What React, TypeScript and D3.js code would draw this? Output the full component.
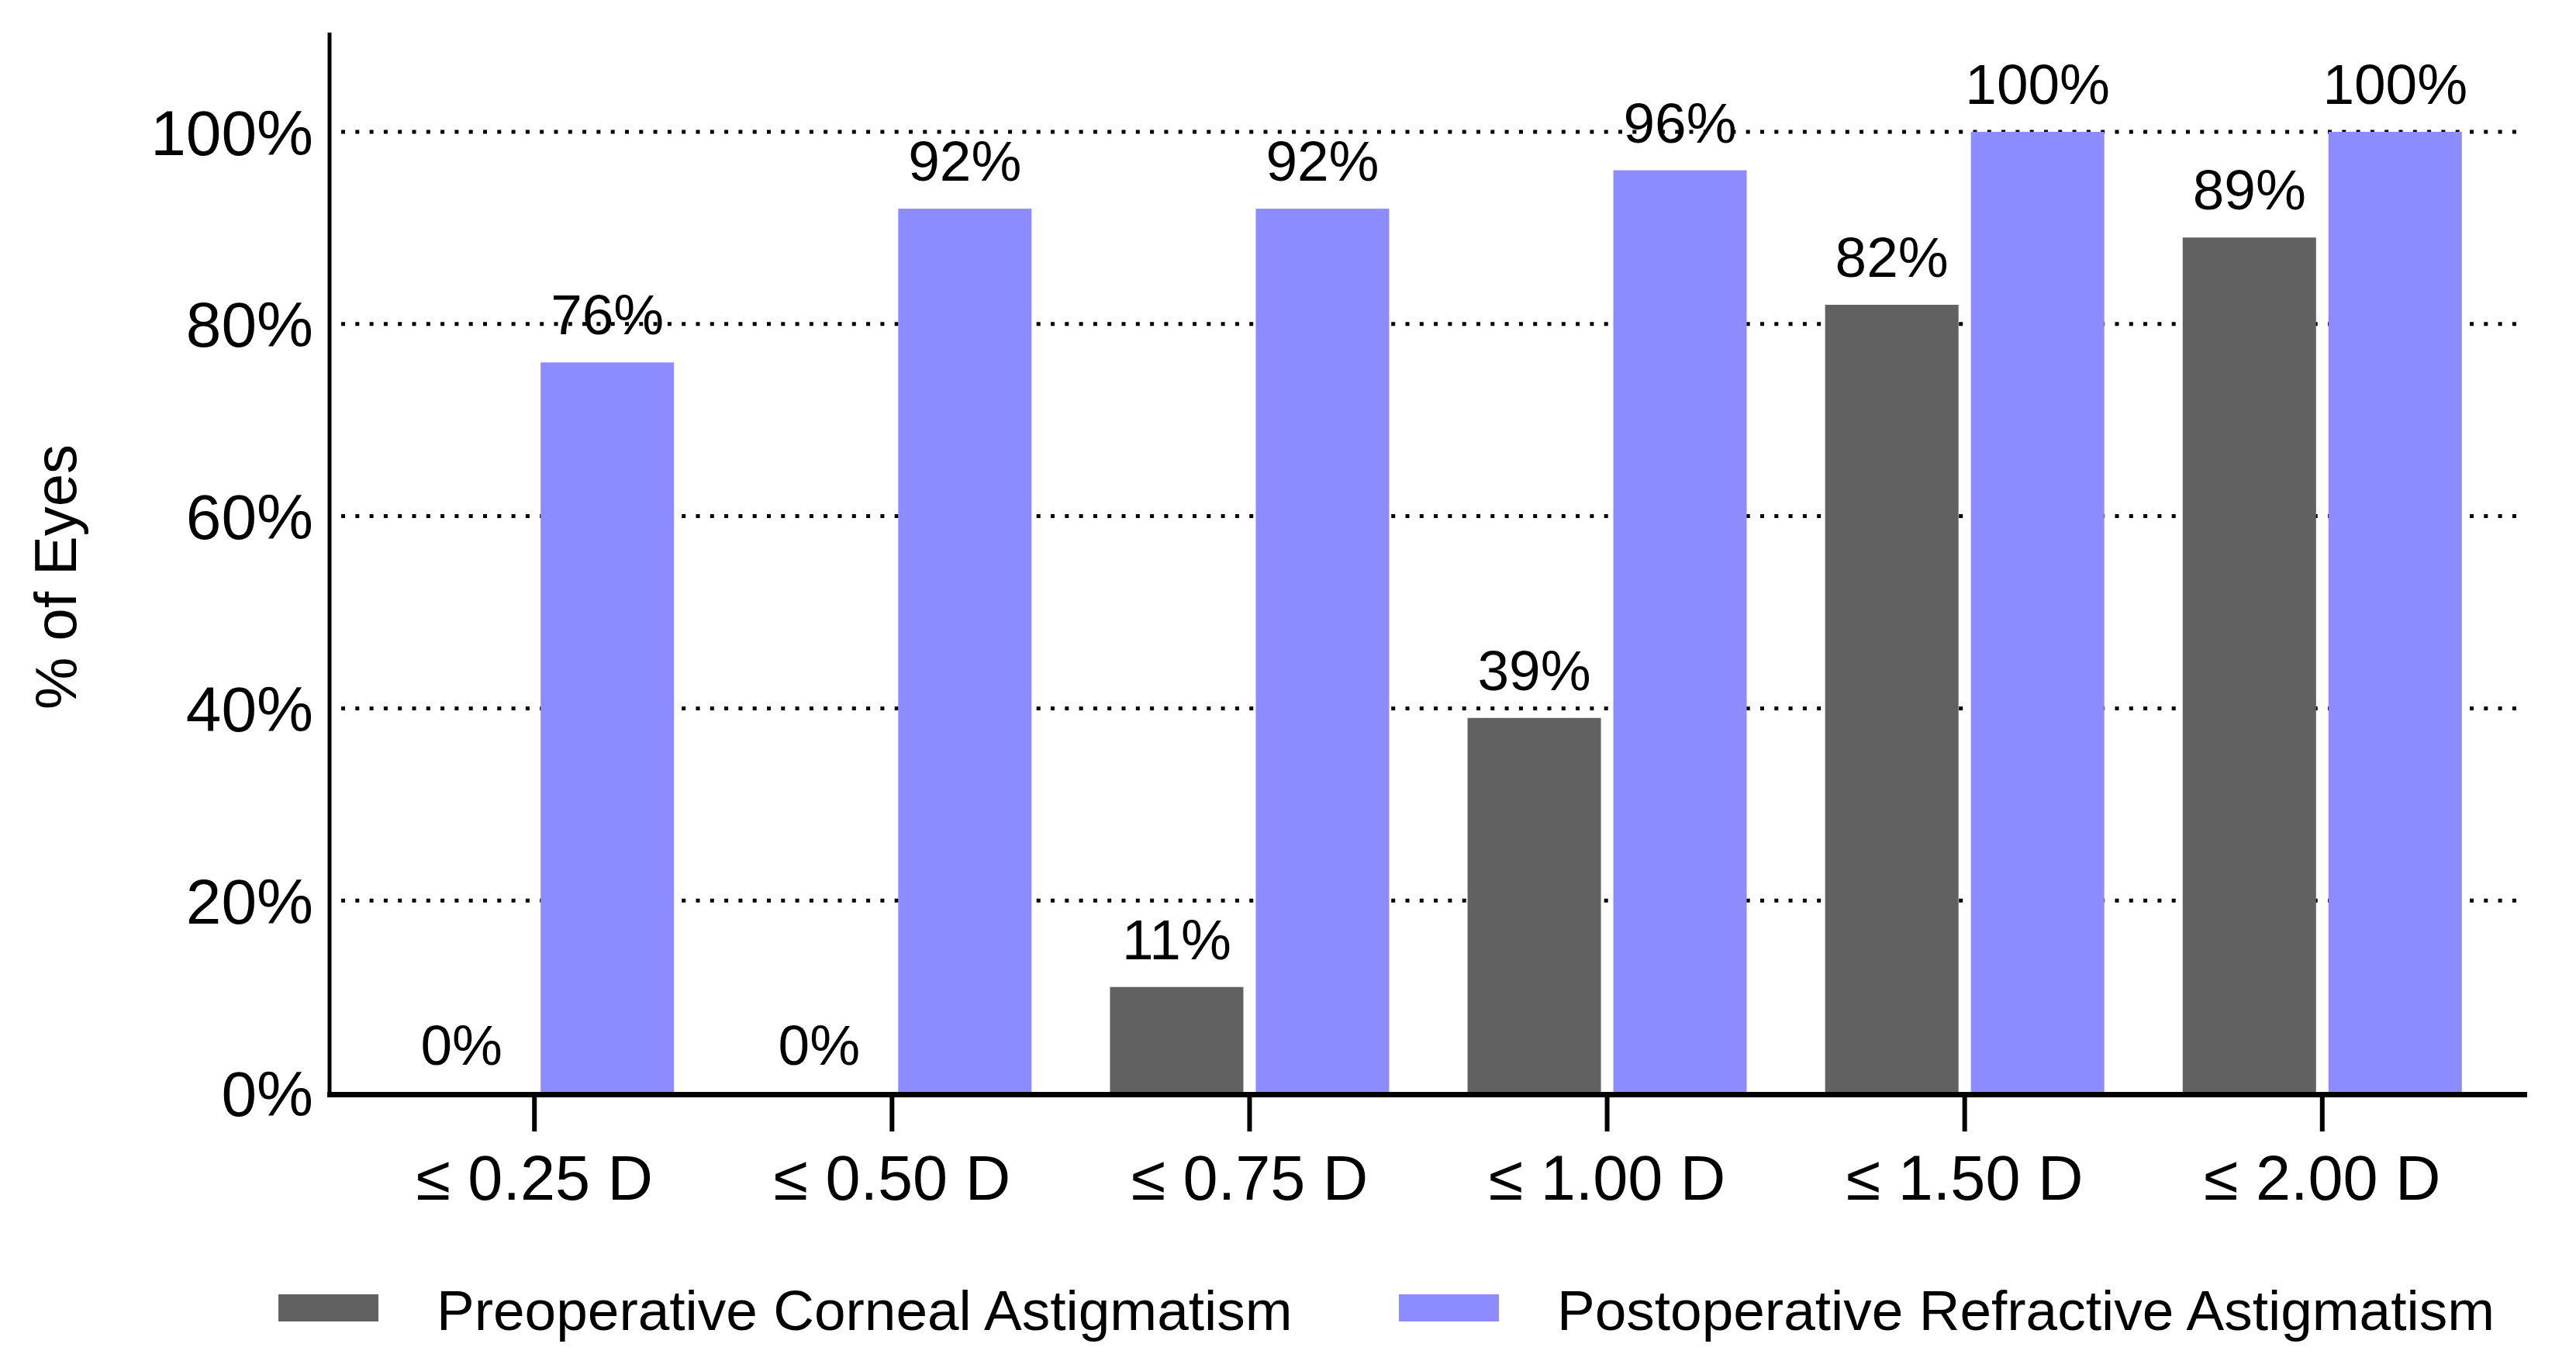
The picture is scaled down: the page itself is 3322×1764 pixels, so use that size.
import React from "react";
import * as d3 from "d3";

const categories = ["≤ 0.25 D", "≤ 0.50 D", "≤ 0.75 D", "≤ 1.00 D", "≤ 1.50 D", "≤ 2.00 D"];
const seriesNames = ["Preoperative Corneal Astigmatism", "Postoperative Refractive Astigmatism"];
const seriesColors = ["#616161", "#8c8cff"];
const preopValues = [0, 0, 11, 39, 82, 89];
const postopValues = [76, 92, 92, 96, 100, 100];
const yTicks = [0, 20, 40, 60, 80, 100];
const yLabel = "% of Eyes";

const W = 3322;
const H = 1764;
const FONT = "'Liberation Sans', Arial, Helvetica, sans-serif";

export default function App() {
  const axisLeft = 425;
  const axisRight = 3259;
  const axisTop = 42;

  // x: category centres, then a small band scale for the two bars
  const x0 = d3.scalePoint<string>().domain(categories).range([axisLeft, axisRight]).padding(0.573);
  const x1 = d3.scaleBand<number>().domain([0, 1]).range([-180, 180]).paddingInner(0.085);

  const y = d3.scaleLinear().domain([0, 100]).range([1409, 170]);

  const series = [preopValues, postopValues];

  return (
    <svg
      width={W}
      height={H}
      style={{ position: "absolute", left: 0, top: 0, background: "#fff" }}
      fontFamily={FONT}
    >
      {/* grid */}
      <g>
        {yTicks
          .filter((t) => t > 0)
          .map((t) => (
            <line
              key={t}
              x1={440}
              x2={3256}
              y1={y(t)}
              y2={y(t)}
              stroke="#000"
              strokeWidth={5}
              strokeDasharray="5 13.3"
            />
          ))}
      </g>

      {/* bars */}
      {series.map((vals, si) => (
        <g key={si}>
          {vals.map((v, i) => {
            const cx = (x0(categories[i]) || 0) + (x1(si) || 0);
            return (
              <rect
                key={i}
                x={cx}
                y={y(v)}
                width={x1.bandwidth()}
                height={y(0) - y(v)}
                fill={seriesColors[si]}
              />
            );
          })}
        </g>
      ))}

      {/* value labels */}
      {series.map((vals, si) => (
        <g key={"l" + si}>
          {vals.map((v, i) => (
            <text
              key={i}
              x={(x0(categories[i]) || 0) + (x1(si) || 0) + x1.bandwidth() / 2}
              y={y(v) - 36}
              textAnchor="middle"
              fontSize={73}
              fill="#000"
            >
              {v}%
            </text>
          ))}
        </g>
      ))}

      {/* y axis */}
      <line x1={axisLeft} x2={axisLeft} y1={axisTop} y2={1415} stroke="#000" strokeWidth={5} />
      {yTicks.map((t) => (
        <text key={t} x={404} y={y(t)} dy="0.36em" textAnchor="end" fontSize={82} fill="#000">
          {t}%
        </text>
      ))}
      <text
        transform={`translate(98, 744) rotate(-90)`}
        textAnchor="middle"
        fontSize={76}
        fill="#000"
      >
        {yLabel}
      </text>

      {/* x axis */}
      <line x1={axisLeft - 3} x2={axisRight} y1={1411.5} y2={1411.5} stroke="#000" strokeWidth={7} />
      {categories.map((c) => (
        <g key={c}>
          <line
            x1={x0(c)}
            x2={x0(c)}
            y1={1413}
            y2={1459}
            stroke="#000"
            strokeWidth={6}
          />
          <text x={x0(c)} y={1547} textAnchor="middle" fontSize={81} fill="#000">
            {c}
          </text>
        </g>
      ))}

      {/* legend */}
      {seriesNames.map((name, si) => {
        const lx = [359, 1804][si];
        return (
          <g key={name}>
            <rect x={lx} y={1669} width={129} height={35} fill={seriesColors[si]} />
            <text x={lx + 204} y={1715} fontSize={73} fill="#000">
              {name}
            </text>
          </g>
        );
      })}
    </svg>
  );
}
